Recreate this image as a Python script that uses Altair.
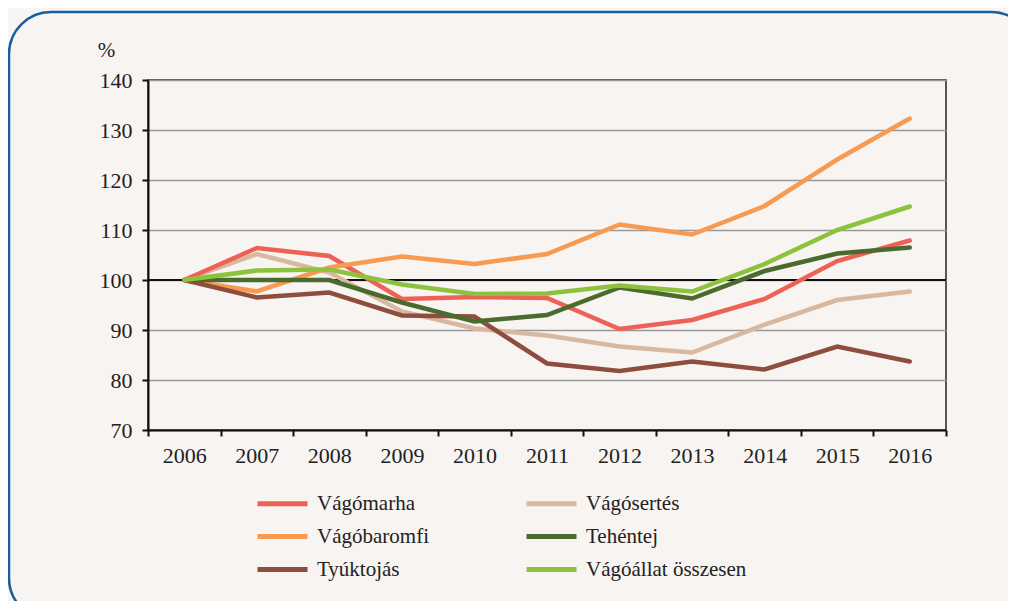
import altair as alt
import pandas as pd

years = ["2006", "2007", "2008", "2009", "2010", "2011", "2012", "2013", "2014", "2015", "2016"]

vagomarha = [100, 106.4, 104.8, 96.2, 96.6, 96.4, 90.2, 92.0, 96.2, 103.8, 107.9]
vagosertes = [100, 105.2, 101.5, 93.7, 90.3, 88.9, 86.7, 85.5, 91.1, 96.0, 97.7]
vagobaromfi = [100, 97.7, 102.5, 104.7, 103.2, 105.2, 111.1, 109.1, 114.8, 124.1, 132.3]
tehentej = [100, 100.0, 100.0, 95.5, 91.7, 93.0, 98.5, 96.3, 101.8, 105.3, 106.5]
tyuktojas = [100, 96.5, 97.5, 92.9, 92.7, 83.3, 81.8, 83.7, 82.1, 86.7, 83.7]
vagoallat = [100, 101.9, 102.1, 99.1, 97.2, 97.3, 98.9, 97.7, 103.2, 110.0, 114.7]

# legend fills column by column: left column first, then right column
legend_order = ["Vágómarha", "Vágóbaromfi", "Tyúktojás", "Vágósertés", "Tehéntej", "Vágóállat összesen"]
colors = ["#ee6157", "#f79a52", "#8e4d3d", "#d8b89f", "#4b6b2e", "#8dc33c"]
draw_order = ["Vágósertés", "Vágómarha", "Vágóbaromfi", "Tyúktojás", "Tehéntej", "Vágóállat összesen"]
series = {
    "Vágómarha": vagomarha,
    "Vágósertés": vagosertes,
    "Vágóbaromfi": vagobaromfi,
    "Tehéntej": tehentej,
    "Tyúktojás": tyuktojas,
    "Vágóállat összesen": vagoallat,
}
y_ticks = [70, 80, 90, 100, 110, 120, 130, 140]
baseline = [100]

rows = []
for name in draw_order:
    for yr, v in zip(years, series[name]):
        rows.append({"year": yr, "value": v, "series": name})
df = pd.DataFrame(rows)

FONT = "Liberation Serif"
W, H = 798, 350

xenc = alt.X(
    "year:N", sort=years, bandPosition=0.5,
    scale=alt.Scale(type="band", paddingInner=0, paddingOuter=0),
    axis=alt.Axis(title=None, labelAngle=0, tickBand="extent", tickSize=6, tickWidth=2,
                  tickColor="#111", domainColor="#111", domainWidth=2, labelPadding=9,
                  labelFontSize=22, labelFont=FONT, labelColor="#222", grid=False),
)
yscale = alt.Scale(domain=[70, 140], nice=False, zero=False)

legend = alt.Legend(title=None, orient="none", legendX=122, legendY=411,
                    columns=2, columnPadding=87, rowPadding=10,
                    symbolType="M-2.5,0H2.5", symbolSize=400, symbolStrokeWidth=5,
                    labelFont=FONT, labelFontSize=21, labelLimit=400,
                    labelFontWeight="normal", labelColor="#222",
                    symbolOffset=0, labelOffset=22)

lines = alt.Chart(df).mark_line(strokeWidth=4.5, strokeCap="round", strokeJoin="miter").encode(
    x=xenc,
    y=alt.Y("value:Q", scale=yscale,
            axis=alt.Axis(values=y_ticks, title="%", titleAngle=0, titleX=-42, titleY=-30,
                          titleAlign="center", titleBaseline="middle", titleFont=FONT,
                          titleFontSize=21, titleFontWeight="normal", titleColor="#222",
                          tickSize=6, tickWidth=2, tickColor="#111", domainColor="#111",
                          domainWidth=2, labelPadding=10, labelFontSize=22, labelFont=FONT,
                          labelColor="#222", grid=True, gridColor="#999", gridWidth=1.5)),
    color=alt.Color("series:N", sort=legend_order,
                    scale=alt.Scale(domain=legend_order, range=colors),
                    legend=legend),
    detail="series:N",
)

base_df = pd.DataFrame({"v": baseline})
rule = alt.Chart(base_df).mark_rule(color="#111", strokeWidth=2).encode(
    y=alt.Y("v:Q", scale=yscale)
)

frame = alt.Chart(pd.DataFrame({"a": [0]})).mark_rect(
    fill=None, stroke="#1a5c9e", strokeWidth=2.5, cornerRadius=42, clip=False
).encode(
    x=alt.value(-139), x2=alt.value(885), y=alt.value(-68), y2=alt.value(540)
)

chart = alt.layer(frame, rule, lines).properties(
    width=W, height=H,
    padding={"left": 140, "top": 72, "right": 62, "bottom": 171},
    autosize=alt.AutoSizeParams(type="none"),
    background="#f7f4f1",
).configure_view(stroke="#222", strokeWidth=1.5)

chart.save("out.html", embed_options={"renderer": "svg", "actions": False})
